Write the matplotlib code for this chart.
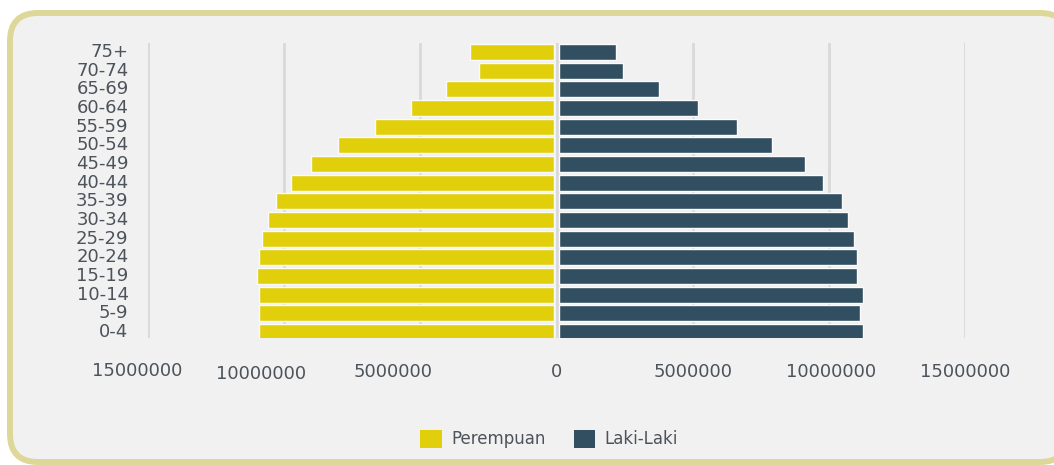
import matplotlib
matplotlib.use("Agg")
import matplotlib.pyplot as plt
from matplotlib.patches import FancyBboxPatch
from matplotlib.transforms import IdentityTransform, ScaledTranslation
import numpy as np

age_groups = ["0-4", "5-9", "10-14", "15-19", "20-24", "25-29", "30-34", "35-39",
              "40-44", "45-49", "50-54", "55-59", "60-64", "65-69", "70-74", "75+"]
perempuan = [10.91e6, 10.94e6, 10.91e6, 10.99e6, 10.91e6, 10.82e6, 10.60e6, 10.31e6,
             9.76e6, 9.03e6, 8.04e6, 6.68e6, 5.33e6, 4.04e6, 2.83e6, 3.16e6]
laki_laki = [11.27e6, 11.13e6, 11.27e6, 11.05e6, 11.05e6, 10.94e6, 10.72e6, 10.47e6,
             9.77e6, 9.14e6, 7.93e6, 6.61e6, 5.21e6, 3.78e6, 2.46e6, 2.20e6]
tick_values = [-15e6, -10e6, -5e6, 0, 5e6, 10e6, 15e6]
tick_labels = ["15000000", "10000000", "5000000", "0", "5000000", "10000000", "15000000"]

YELLOW = "#e2cf0c"
BLUE = "#324f62"
TEXT = "#4d535a"
BG = "#f1f1f1"
GAP = 75000  # visual gap each side of zero (style)

plt.rcParams["font.family"] = ["DejaVu Sans"]

W, H = 1054, 465
fig = plt.figure(figsize=(W / 100, H / 100), dpi=100)
fig.patch.set_facecolor("white")

box = FancyBboxPatch((10, 3), 1058, 449, boxstyle="round,pad=0,rounding_size=28",
                     transform=IdentityTransform(), facecolor=BG, edgecolor="#ddd898",
                     linewidth=4.3, zorder=-10)
fig.patches.append(box)

ax = fig.add_axes([148 / W, 1 - 338 / H, (965 - 148) / W, (338 - 43) / H])
ax.set_facecolor("none")

y = np.arange(len(age_groups))
p = np.array(perempuan)
l = np.array(laki_laki)
ax.barh(y, -(p - GAP), left=-GAP, height=0.86, color=YELLOW, edgecolor="#fbfbfb",
        linewidth=1, label="Perempuan", zorder=3)
ax.barh(y, l - GAP, left=GAP, height=0.86, color=BLUE, edgecolor="#fbfbfb",
        linewidth=1, label="Laki-Laki", zorder=3)

ax.set_xlim(-15e6, 15e6)
ax.set_ylim(-0.32, len(age_groups) - 1 + 0.48)
ax.set_xticks(tick_values)
ax.set_xticklabels(tick_labels)
ax.set_yticks(y)
ax.set_yticklabels(age_groups)
ax.tick_params(axis="x", length=0, pad=18, labelsize=13, labelcolor=TEXT)
ax.tick_params(axis="y", length=0, pad=14, labelsize=13, labelcolor=TEXT)
for lab in ax.get_yticklabels():
    lab.set_verticalalignment("center")
# label offsets as in the reference (pixels)
offsets = [(-11, 1), (-23, -2), (-27, 0), (0, 0), (0, 0), (2, 0), (0, 0)]
for lab, (dx, dy) in zip(ax.get_xticklabels(), offsets):
    lab.set_transform(lab.get_transform() + ScaledTranslation(dx / 100, dy / 100, fig.dpi_scale_trans))
ax.grid(axis="x", color="#d9d9d9", linewidth=2, zorder=0)
ax.grid(axis="y", visible=False)
for s in ax.spines.values():
    s.set_visible(False)

leg = fig.legend(loc="center", bbox_to_anchor=(549 / W, 1 - 439 / H), ncol=2,
                 frameon=False, fontsize=12, handlelength=1.3, handleheight=1.3,
                 handletextpad=0.55, columnspacing=1.7, labelcolor=TEXT)
for h in leg.legend_handles:
    h.set_edgecolor("none")

fig.savefig("out.png", dpi=100)
